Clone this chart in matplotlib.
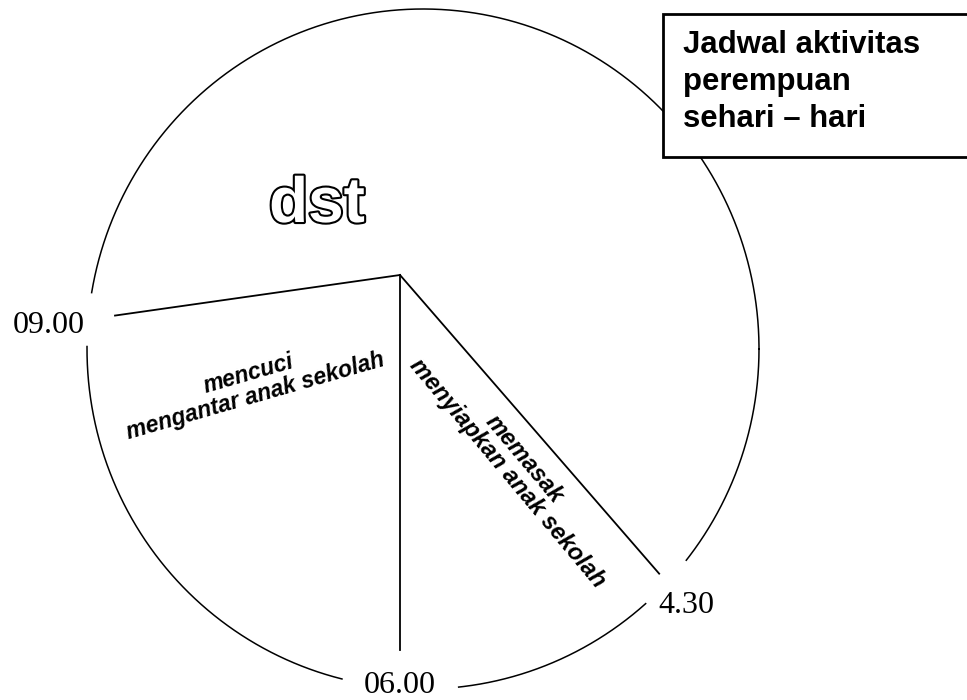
import numpy as np
import matplotlib.pyplot as plt
import matplotlib.patheffects as pe
from matplotlib.patches import Rectangle

# clock times that split the day, and what happens between them
hours = [4.5, 6.0, 9.0]
hour_labels = ['4.30', '06.00', '09.00']
activities = ['memasak\nmenyiapkan anak sekolah', 'mencuci\nmengantar anak sekolah']
rest_label = 'dst'
title = 'Jadwal aktivitas\nperempuan\nsehari – hari'

narrow = ['Liberation Sans Narrow', 'Liberation Sans', 'DejaVu Sans']

fig = plt.figure(figsize=(9.67, 7), dpi=100)
ax = fig.add_axes([0, 0, 1, 1])
ax.set_xlim(0, 967)
ax.set_ylim(700, 0)
ax.axis('off')

# drawing space in pixels: the "clock" ellipse and its hub
cx, cy, rx, ry = 423, 349, 336, 340
hx, hy = 400, 275
deg_per_hour = 27.3


def direction(h):
    a = np.radians(270 - (h - 6) * deg_per_hour)
    return np.cos(a), -np.sin(a)


def hit(h):
    # where the ray from the hub meets the ellipse
    dx, dy = direction(h)
    ox, oy = (hx - cx) / rx, (hy - cy) / ry
    ux, uy = dx / rx, dy / ry
    A = ux**2 + uy**2
    B = 2 * (ox * ux + oy * uy)
    C = ox**2 + oy**2 - 1
    return (-B + np.sqrt(B**2 - 4 * A * C)) / (2 * A)


spoke_gap = [12, 38, 27]
label_pad = [30, -3, 40]
gap_half = [5, 10, 4.5]

theta = np.linspace(0, 2 * np.pi, 3000)
keep = np.ones_like(theta, dtype=bool)

for h, lab, sg, lp, gh in zip(hours, hour_labels, spoke_gap, label_pad, gap_half):
    dx, dy = direction(h)
    t = hit(h)
    ax.plot([hx, hx + dx * (t - sg)], [hy, hy + dy * (t - sg)], color='black', lw=1.3)
    ax.text(hx + dx * (t + lp), hy + dy * (t + lp), lab, fontsize=23,
            family='Liberation Serif', ha='center', va='center')
    ex, ey = hx + dx * t, hy + dy * t
    th0 = np.arctan2((ey - cy) / ry, (ex - cx) / rx) % (2 * np.pi)
    diff = np.abs((theta - th0 + np.pi) % (2 * np.pi) - np.pi)
    keep &= diff > np.radians(gh)

ex = np.where(keep, cx + rx * np.cos(theta), np.nan)
ey = np.where(keep, cy + ry * np.sin(theta), np.nan)
ax.plot(ex, ey, color='black', lw=1.1)

# activity texts
ax.text(516, 466, activities[0], fontsize=17, family=narrow, weight='bold',
        style='italic', rotation=-50, ha='center', va='center',
        rotation_mode='anchor', linespacing=0.95)
ax.text(252, 385, activities[1], fontsize=16.5, family=narrow, weight='bold',
        style='italic', rotation=16, ha='center', va='center',
        rotation_mode='anchor', linespacing=1.0)
ax.text(317, 205, rest_label, fontsize=46, family=narrow, weight='bold',
        color='white', ha='center', va='center',
        path_effects=[pe.withStroke(linewidth=3, foreground='black')])

# title box
ax.add_patch(Rectangle((663, 14), 330, 143, facecolor='white',
                       edgecolor='black', lw=2, zorder=3))
ax.text(683, 30, title, fontsize=22.4, family='Liberation Sans', weight='bold',
        ha='left', va='top', linespacing=1.3, zorder=4)

fig.savefig('out.png', dpi=100, facecolor='white')
